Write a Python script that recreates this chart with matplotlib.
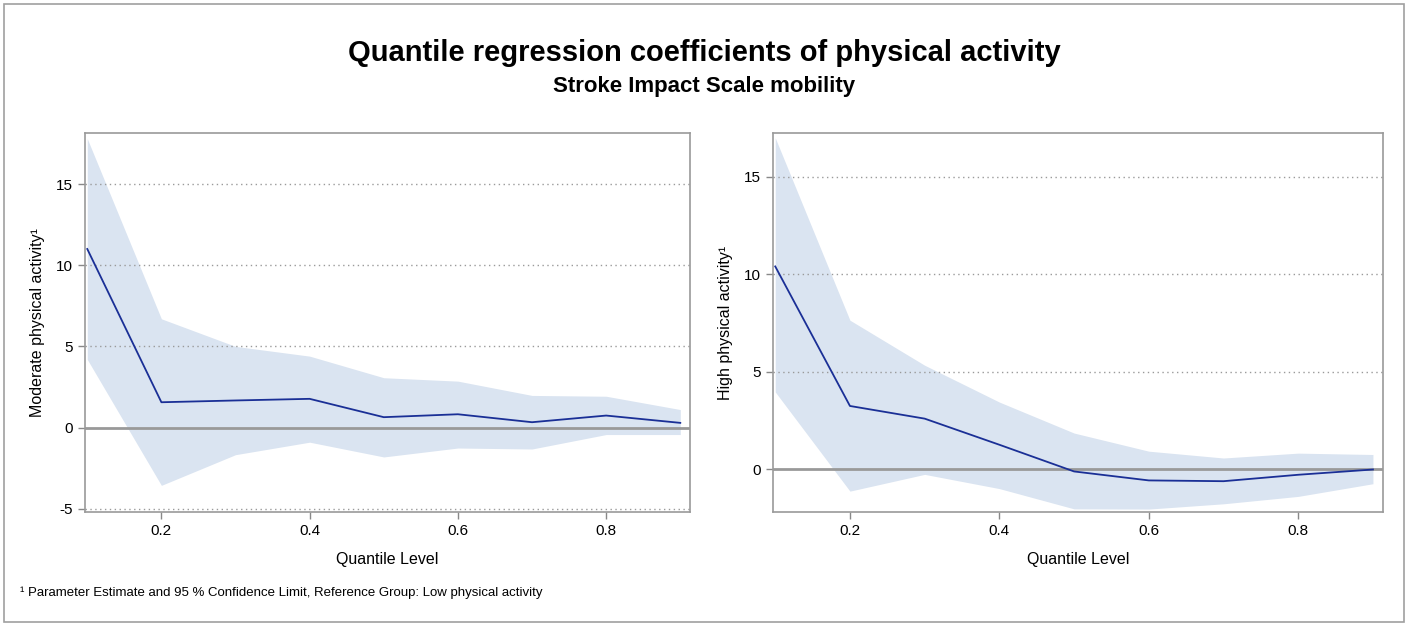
import matplotlib.pyplot as plt
from matplotlib.patches import Rectangle

quantiles = [0.1, 0.2, 0.3, 0.4, 0.5, 0.6, 0.7, 0.8, 0.9]

mod_est = [11.0, 1.56, 1.67, 1.77, 0.64, 0.82, 0.33, 0.74, 0.29]
mod_upper = [17.8, 6.7, 5.0, 4.4, 3.07, 2.86, 1.98, 1.93, 1.11]
mod_lower = [4.2, -3.56, -1.67, -0.9, -1.81, -1.26, -1.32, -0.43, -0.43]

high_est = [10.4, 3.24, 2.59, 1.25, -0.12, -0.58, -0.62, -0.29, -0.02]
high_upper = [17.0, 7.64, 5.33, 3.44, 1.85, 0.92, 0.57, 0.82, 0.75]
high_lower = [3.96, -1.13, -0.27, -1.0, -2.04, -2.05, -1.78, -1.4, -0.75]

plt.rcParams['font.family'] = ['Liberation Sans', 'DejaVu Sans']

fig = plt.figure(figsize=(14.08, 6.24), dpi=100)
fig.patches.append(Rectangle((0.003, 0.004), 0.994, 0.99, transform=fig.transFigure,
                             fill=False, edgecolor='#a0a0a0', lw=1.2))

fig.text(0.5, 0.915, 'Quantile regression coefficients of physical activity',
         ha='center', va='center', fontsize=21, fontweight='bold')
fig.text(0.5, 0.862, 'Stroke Impact Scale mobility',
         ha='center', va='center', fontsize=16, fontweight='bold')
fig.text(0.014, 0.05, '\u00b9 Parameter Estimate and 95 % Confidence Limit, Reference Group: Low physical activity',
         ha='left', va='center', fontsize=9.5)

panels = [
    ([0.0604, 0.1795, 0.4296, 0.6075], mod_est, mod_lower, mod_upper,
     'Moderate physical activity\u00b9', (-5.2, 18.15), [-5, 0, 5, 10, 15]),
    ([0.549, 0.1795, 0.433, 0.6075], high_est, high_lower, high_upper,
     'High physical activity\u00b9', (-2.2, 17.25), [0, 5, 10, 15]),
]

for rect, est, lo, hi, ylab, ylim, yt in panels:
    ax = fig.add_axes(rect)
    ax.fill_between(quantiles, lo, hi, color='#dae4f1', lw=0, zorder=1)
    for v in yt:
        if v != 0:
            ax.axhline(v, color='#9a9a9a', ls=(0, (1, 2.5)), lw=1, zorder=2)
    ax.axhline(0, color='#999999', lw=2, zorder=3)
    ax.plot(quantiles, est, color='#1a2f96', lw=1.3, zorder=4)
    ax.set_xlim(0.097, 0.913)
    ax.set_ylim(*ylim)
    ax.set_xticks([0.2, 0.4, 0.6, 0.8])
    ax.set_xticklabels(['0.2', '0.4', '0.6', '0.8'])
    ax.set_yticks(yt)
    ax.set_yticklabels([str(v) for v in yt])
    ax.tick_params(labelsize=11, color='#888888', length=5, width=1)
    for s in ax.spines.values():
        s.set_color('#9a9a9a')
        s.set_linewidth(1.2)
    ax.set_xlabel('Quantile Level', fontsize=11.5, labelpad=10)
    ax.set_ylabel(ylab, fontsize=11.5, labelpad=8)

fig.savefig('out.png', dpi=100)
